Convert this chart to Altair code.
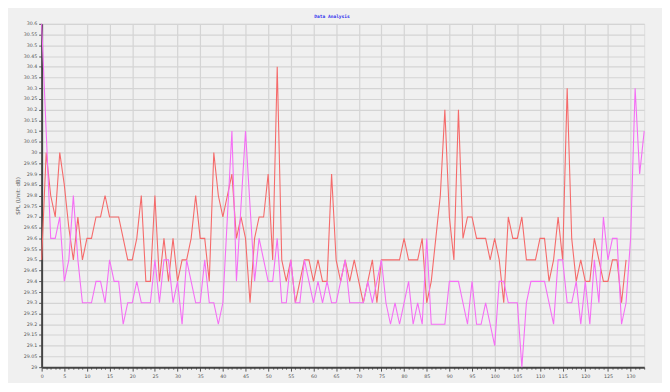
import altair as alt
import pandas as pd

red_values = [
    29.5, 30.0, 29.8, 29.7, 30.0, 29.85, 29.65, 29.5, 29.7, 29.5,
    29.6, 29.6, 29.7, 29.7, 29.8, 29.7, 29.7, 29.7, 29.6, 29.5,
    29.5, 29.6, 29.8, 29.4, 29.4, 29.8, 29.4, 29.6, 29.4, 29.6,
    29.4, 29.5, 29.5, 29.6, 29.8, 29.6, 29.6, 29.4, 30.0, 29.8,
    29.7, 29.8, 29.9, 29.6, 29.7, 29.6, 29.3, 29.6, 29.7, 29.7,
    29.9, 29.5, 30.4, 29.5, 29.4, 29.5, 29.3, 29.4, 29.5, 29.5,
    29.4, 29.5, 29.4, 29.4, 29.9, 29.5, 29.4, 29.5, 29.4, 29.5,
    29.4, 29.3, 29.4, 29.5, 29.3, 29.5, 29.5, 29.5, 29.5, 29.5,
    29.6, 29.5, 29.5, 29.5, 29.6, 29.3, 29.4, 29.6, 29.8, 30.2,
    29.7, 29.5, 30.2, 29.6, 29.7, 29.7, 29.6, 29.6, 29.6, 29.5,
    29.6, 29.5, 29.3, 29.7, 29.6, 29.6, 29.7, 29.5, 29.5, 29.5,
    29.6, 29.6, 29.4, 29.5, 29.7, 29.5, 30.3, 29.6, 29.4, 29.5,
    29.4, 29.4, 29.6, 29.5, 29.4, 29.4, 29.5, 29.5, 29.3, 29.5,
]

magenta_values = [
    30.6, 30.1, 29.6, 29.6, 29.7, 29.4, 29.5, 29.8, 29.5, 29.3,
    29.3, 29.3, 29.4, 29.4, 29.3, 29.5, 29.4, 29.4, 29.2, 29.3,
    29.3, 29.4, 29.3, 29.3, 29.3, 29.5, 29.3, 29.5, 29.5, 29.3,
    29.4, 29.2, 29.5, 29.4, 29.3, 29.3, 29.5, 29.3, 29.3, 29.2,
    29.3, 29.7, 30.1, 29.4, 29.75, 30.1, 29.75, 29.4, 29.6, 29.5,
    29.4, 29.4, 29.6, 29.3, 29.3, 29.5, 29.3, 29.3, 29.5, 29.4,
    29.3, 29.4, 29.3, 29.4, 29.3, 29.3, 29.4, 29.5, 29.3, 29.3,
    29.3, 29.3, 29.4, 29.3, 29.4, 29.5, 29.3, 29.2, 29.3, 29.2,
    29.3, 29.4, 29.2, 29.3, 29.2, 29.6, 29.2, 29.2, 29.2, 29.2,
    29.4, 29.4, 29.4, 29.3, 29.2, 29.4, 29.2, 29.2, 29.3, 29.2,
    29.1, 29.4, 29.4, 29.3, 29.3, 29.3, 29.0, 29.3, 29.4, 29.4,
    29.4, 29.4, 29.3, 29.2, 29.5, 29.5, 29.3, 29.3, 29.4, 29.2,
    29.4, 29.2, 29.5, 29.3, 29.7, 29.5, 29.6, 29.6, 29.2, 29.3,
    29.6, 30.3, 29.9, 30.1,
]

series_names = ["Series 1", "Series 2"]
series_colors = ["#f56a6a", "#f56ef5"]
x_ticks = list(range(0, 134))
y_ticks = [round(29 + 0.05 * k, 2) for k in range(33)]

rows = []
for i, v in enumerate(red_values):
    rows.append({"idx": i, "spl": v, "series": series_names[0]})
for i, v in enumerate(magenta_values):
    rows.append({"idx": i, "spl": v, "series": series_names[1]})
df = pd.DataFrame(rows)

chart = alt.Chart(df).mark_line(strokeWidth=1.1).encode(
    x=alt.X(
        "idx:Q",
        scale=alt.Scale(domain=[0, 133], nice=False, zero=False),
        axis=alt.Axis(
            title=None,
            values=x_ticks,
            labelExpr="datum.value % 5 === 0 ? datum.label : ''",
            gridOpacity={"condition": {"test": "datum.value % 5 === 0", "value": 1}, "value": 0},
            tickSize={"condition": {"test": "datum.value % 5 === 0", "value": 4}, "value": 2},
            labelFontSize=4.8,
            labelColor="#555555",
            labelPadding=2,
            labelFlush=False,
            domainColor="#444444",
            domainWidth=2,
            tickColor="#555555",
            tickWidth=1,
            gridColor="#d4d4d4",
            gridWidth=1.2,
        ),
    ),
    y=alt.Y(
        "spl:Q",
        scale=alt.Scale(domain=[29, 30.6], nice=False, zero=False),
        axis=alt.Axis(
            title="SPL (Unit: dB)",
            values=y_ticks,
            format=".4~r",
            labelFontSize=4.8,
            labelColor="#555555",
            labelPadding=2,
            labelFlush=False,
            tickSize=3,
            tickColor="#555555",
            domainColor="#444444",
            domainWidth=2,
            gridColor="#d4d4d4",
            gridWidth=1.2,
            titleFontSize=5.5,
            titleFontWeight="normal",
            titleColor="#555555",
            titlePadding=3,
        ),
    ),
    color=alt.Color(
        "series:N",
        scale=alt.Scale(domain=series_names, range=series_colors),
        legend=None,
    ),
    order=alt.Order("idx:Q"),
).properties(
    width=609,
    height=347,
    title=alt.TitleParams(
        "Data Analysis",
        fontSize=4.6,
        font="DejaVu Sans Mono",
        fontWeight="bold",
        color="#3333ee",
        anchor="middle",
        offset=2,
        dx=-11,
    ),
    autosize=alt.AutoSizeParams(type="none"),
    padding={"left": 34, "top": 14, "right": 18, "bottom": 14},
    background="#f0f0f0",
).configure_view(
    stroke="#a0a0a0",
    strokeWidth=1.5,
    fill="#f0f0f0",
).configure(font="DejaVu Sans")

chart.save("out.html", embed_options={"renderer": "svg", "actions": False})
